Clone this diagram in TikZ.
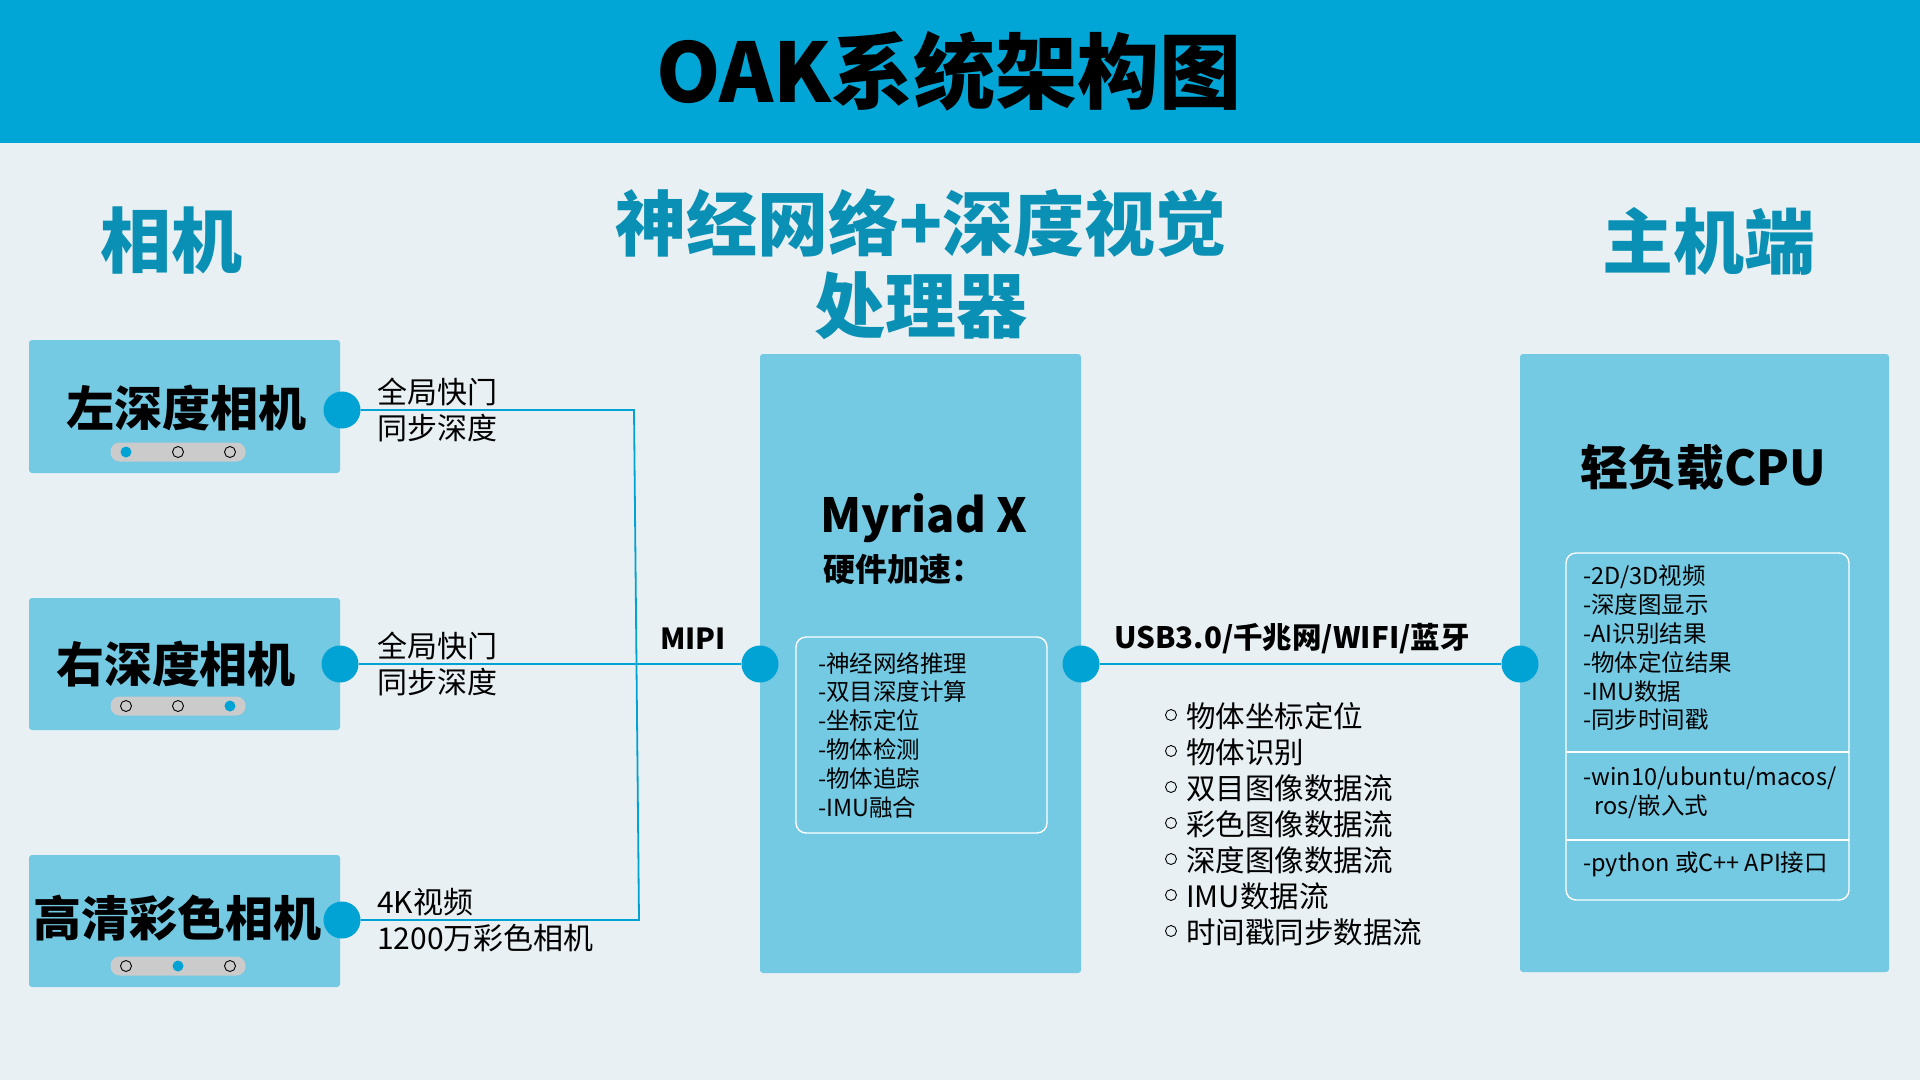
\documentclass[tikz,border=0pt]{standalone}
\usepackage{fontspec}
\setmainfont{Noto Sans CJK SC}
\definecolor{hdr}{HTML}{02A6D6}
\definecolor{bgc}{HTML}{E8F0F3}
\definecolor{boxc}{HTML}{74C9E3}
\definecolor{dotc}{HTML}{00A3D4}
\definecolor{headc}{HTML}{0A90B4}
\definecolor{pillc}{HTML}{CBCBCB}
\begin{document}
\begin{tikzpicture}[x=1pt,y=-1pt,
  bigbox/.style={fill=boxc, rounded corners=3pt, inner sep=0pt},
  condot/.style={circle, fill=dotc, minimum size=37pt, inner sep=0pt},
  conn/.style={draw=dotc, line width=1.8pt},
  pill/.style={fill=pillc, rounded corners=9pt, minimum width=135pt, minimum height=19pt, inner sep=0pt},
  pdot/.style={circle, minimum size=11pt, inner sep=0pt, draw=black, line width=0.9pt},
  pdotf/.style={circle, minimum size=11pt, inner sep=0pt, fill=dotc},
  heading/.style={font=\fontsize{71}{75}\selectfont\bfseries, text=headc, align=center, inner sep=0pt},
  camtext/.style={font=\fontsize{48}{50}\selectfont\bfseries, inner sep=0pt},
  lbl/.style={font=\fontsize{30}{36}\selectfont, align=left, anchor=west, inner sep=0pt},
  smalllist/.style={font=\fontsize{23.5}{28.8}\selectfont, align=left, anchor=west, inner sep=0pt},
  inbox/.style={draw=white, line width=1.4pt, rounded corners=10pt, inner sep=0pt},
  bul/.style={circle, draw=black, line width=0.9pt, minimum size=11pt, inner sep=0pt}
]
\useasboundingbox (0,0) rectangle (1920,1080);
\fill[bgc] (0,0) rectangle (1920,1080);
\fill[hdr] (0,0) rectangle (1920,143);
\node[font=\fontsize{82}{86}\selectfont\bfseries, inner sep=0pt] (title) at (949,71) {OAK系统架构图};

\node[heading] (h1) at (171,241) {相机};
\node[heading] (h2) at (921,223) {神经网络+深度视觉};
\node[heading] (h3) at (921,306) {处理器};
\node[heading] (h4) at (1709,241) {主机端};

% camera boxes
\node[bigbox, minimum width=311pt, minimum height=133pt] (cam1) at (184.5,406.5) {};
\node[bigbox, minimum width=311pt, minimum height=132pt] (cam2) at (184.5,664) {};
\node[bigbox, minimum width=311pt, minimum height=132pt] (cam3) at (184.5,921) {};
\node[camtext] (t1) at (186,408) {左深度相机};
\node[camtext] (t2) at (176,664) {右深度相机};
\node[camtext] (t3) at (178,918) {高清彩色相机};

\node[pill] (p1) at (178,452) {};
\node[pdotf] (p1a) at (126,452) {};
\node[pdot] (p1b) at (178,452) {};
\node[pdot] (p1c) at (230,452) {};

\node[pill] (p2) at (178,706) {};
\node[pdot] (p2a) at (126,706) {};
\node[pdot] (p2b) at (178,706) {};
\node[pdotf] (p2c) at (230,706) {};

\node[pill] (p3) at (178,966) {};
\node[pdot] (p3a) at (126,966) {};
\node[pdotf] (p3b) at (178,966) {};
\node[pdot] (p3c) at (230,966) {};

% processor box
\node[bigbox, minimum width=321pt, minimum height=619pt] (myr) at (920.5,663.5) {};
\node[font=\fontsize{47}{52}\selectfont\bfseries, anchor=west, inner sep=0pt] (myrt) at (820,518) {Myriad X};
\node[font=\fontsize{32}{36}\selectfont\bfseries, anchor=west, inner sep=0pt] (myrs) at (823,569) {硬件加速：};
\node[inbox, minimum width=251pt, minimum height=196pt] (myrin) at (921.5,735) {};
\node[smalllist] (myrl) at (818,735) {-神经网络推理\\-双目深度计算\\-坐标定位\\-物体检测\\-物体追踪\\-IMU融合};

% host box
\node[bigbox, minimum width=369pt, minimum height=618pt] (cpu) at (1704.5,663) {};
\node[font=\fontsize{48}{52}\selectfont\bfseries, inner sep=0pt] (cput) at (1703,467) {轻负载CPU};
\node[inbox, minimum width=283pt, minimum height=347pt] (cpuin) at (1707.5,726.5) {};
\draw[white, line width=1.4pt] (1566,752) -- (1849,752);
\draw[white, line width=1.4pt] (1566,840) -- (1849,840);
\node[smalllist] (cpul1) at (1583,648) {-2D/3D视频\\-深度图显示\\-AI识别结果\\-物体定位结果\\-IMU数据\\-同步时间戳};
\node[smalllist] (cpul2) at (1583,793) {-win10/ubuntu/macos/\\\hspace*{11pt}ros/嵌入式};
\node[smalllist] (cpul3) at (1583,864) {-python 或C++ API接口};

% connection dots
\node[condot] (d1) at (342,410) {};
\node[condot] (d2) at (340,664) {};
\node[condot] (d3) at (342,920) {};
\node[condot] (dm1) at (760,664) {};
\node[condot] (dm2) at (1081,664) {};
\node[condot] (dc) at (1520,664) {};
\coordinate (c1) at (634,410);
\coordinate (c3) at (639,920);

\draw[conn] (d1) -- (c1) -- (c3) -- (d3);
\draw[conn] (d2) -- (dm1);
\draw[conn] (dm2) -- (dc);

% labels
\node[lbl] (l1) at (377,410) {全局快门\\同步深度};
\node[lbl] (l2) at (377,664) {全局快门\\同步深度};
\node[lbl] (l3) at (377,920) {4K视频\\1200万彩色相机};
\node[font=\fontsize{29}{32}\selectfont\bfseries, inner sep=0pt] (mipi) at (693,639) {MIPI};
\node[font=\fontsize{29.5}{32}\selectfont\bfseries, inner sep=0pt] (usb) at (1292,639) {USB3.0/千兆网/WIFI/蓝牙};

% data list
\node[lbl, font=\fontsize{29.5}{36}\selectfont] (dl) at (1186,824) {物体坐标定位\\物体识别\\双目图像数据流\\彩色图像数据流\\深度图像数据流\\IMU数据流\\时间戳同步数据流};
\foreach \i/\yy in {1/716,2/752,3/788,4/824,5/860,6/896,7/932}{
  \node[bul] (b\i) at (1171,\yy-1) {};
}
\end{tikzpicture}
\end{document}
